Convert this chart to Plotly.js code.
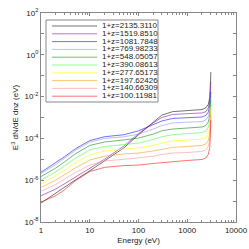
<!DOCTYPE html>
<html><head><meta charset="utf-8">
<script src="https://cdn.plot.ly/plotly-3.0.1.min.js"></script>
<style>html,body{margin:0;padding:0;background:#fff}#chart{width:249px;height:249px}</style>
</head><body><div id="chart"></div>
<script>
// Energy grid (eV)
const energy = [1, 2, 3, 5, 10, 20, 50, 100, 200, 300, 500, 1000, 2000, 2400, 2700, 2900, 3000, 3050];

// Series labels (1+z)
const seriesNames = ['1+z=2135.3110','1+z=1519.8510','1+z=1081.7848','1+z=769.98233','1+z=548.05057',
                     '1+z=390.08613','1+z=277.65173','1+z=197.62426','1+z=140.66309','1+z=100.11981'];

// E^3 dN/dE dnz (eV) values
const z2135 = [8.1e-8, 2.4e-7, 4.7e-7, 1.0e-6, 2.8e-6, 8.3e-6, 3.5e-5, 1.5e-4, 5.8e-4, 1.3e-3, 1.9e-3, 2.2e-3, 2.4e-3, 2.9e-3, 4.2e-3, 9.1e-3, 3.6e-2, 0.15];
const z1519 = [1.8e-7, 3.8e-7, 6.6e-7, 1.4e-6, 3.6e-6, 1.0e-5, 4.3e-5, 1.7e-4, 5.5e-4, 1.0e-3, 1.4e-3, 1.55e-3, 1.65e-3, 1.9e-3, 2.9e-3, 6.2e-3, 1.9e-2, 5.0e-2];
const z1081 = [2.4e-6, 6.7e-6, 1.3e-5, 3.1e-5, 7.9e-5, 1.2e-4, 1.5e-4, 2.3e-4, 4.4e-4, 6.8e-4, 9.0e-4, 9.7e-4, 1.06e-3, 1.25e-3, 1.8e-3, 4.0e-3, 8.6e-3, 1.7e-2];
const z769  = [2.1e-6, 5.6e-6, 1.1e-5, 2.6e-5, 6.7e-5, 9.9e-5, 1.2e-4, 1.6e-4, 2.8e-4, 4.1e-4, 5.5e-4, 6.1e-4, 6.4e-4, 7.6e-4, 1.1e-3, 2.4e-3, 5.5e-3, 1.07e-2];
const z548  = [1.5e-6, 3.8e-6, 7.4e-6, 1.8e-5, 4.6e-5, 6.7e-5, 8.4e-5, 1.04e-4, 1.6e-4, 2.3e-4, 2.8e-4, 3.1e-4, 3.5e-4, 4.1e-4, 6.1e-4, 1.3e-3, 3.5e-3, 6.9e-3];
const z390  = [1.0e-6, 2.5e-6, 4.8e-6, 1.1e-5, 2.8e-5, 4.1e-5, 5.1e-5, 6.0e-5, 8.9e-5, 1.2e-4, 1.5e-4, 1.7e-4, 1.9e-4, 2.3e-4, 3.3e-4, 7.2e-4, 2.3e-3, 4.9e-3];
const z277  = [6.6e-7, 1.6e-6, 2.9e-6, 6.7e-6, 1.6e-5, 2.5e-5, 3.1e-5, 3.5e-5, 4.6e-5, 6.0e-5, 7.5e-5, 8.4e-5, 9.4e-5, 1.1e-4, 1.6e-4, 3.5e-4, 1.3e-3, 3.2e-3];
const z197  = [4.5e-7, 1.0e-6, 1.8e-6, 3.8e-6, 9.3e-6, 1.4e-5, 1.8e-5, 2.0e-5, 2.5e-5, 2.9e-5, 3.7e-5, 4.1e-5, 4.6e-5, 5.4e-5, 7.9e-5, 1.7e-4, 7.6e-4, 2.0e-3];
const z140  = [3.0e-7, 6.2e-7, 1.1e-6, 2.3e-6, 5.3e-6, 8.3e-6, 1.0e-5, 1.15e-5, 1.4e-5, 1.7e-5, 2.0e-5, 2.1e-5, 2.4e-5, 2.8e-5, 4.1e-5, 8.9e-5, 4.4e-4, 1.3e-3];
const z100  = [9.1e-8, 1.8e-7, 3.4e-7, 9.2e-7, 2.6e-6, 4.1e-6, 5.0e-6, 5.3e-6, 6.3e-6, 7.0e-6, 7.9e-6, 8.8e-6, 9.8e-6, 1.15e-5, 1.7e-5, 3.7e-5, 2.5e-4, 7.6e-4];

const seriesValues = [z2135, z1519, z1081, z769, z548, z390, z277, z197, z140, z100];
const seriesColors = ['rgba(0,0,0,0.55)','rgba(140,0,160,0.55)','rgba(0,0,255,0.55)','rgba(110,110,255,0.45)','rgba(0,130,0,0.55)',
                      'rgba(40,255,40,0.5)','rgba(255,255,0,0.6)','rgba(255,150,0,0.55)','rgba(255,140,140,0.55)','rgba(255,0,0,0.55)'];

// Tick labels
const xTickVals = [1, 10, 100, 1000, 10000];
const xTickText = ['1', '10', '100', '1000', '10000'];
const yTickVals = [1e2, 1e0, 1e-2, 1e-4, 1e-6, 1e-8];
const yTickText = ['10<sup>2</sup>', '10<sup>0</sup>', '10<sup>-2</sup>', '10<sup>-4</sup>', '10<sup>-6</sup>', '10<sup>-8</sup>'];
const yMinorVals = [1e1, 1e-1, 1e-3, 1e-5, 1e-7];

const xMinor = [];
[1, 10, 100, 1000].forEach(d => { for (let k = 2; k <= 9; k++) xMinor.push(d * k); });

const traces = seriesValues.map((vals, i) => ({
  type: 'scatter', mode: 'lines', x: energy, y: vals, name: seriesNames[i],
  line: {color: seriesColors[i], width: 1}, showlegend: false, hoverinfo: 'skip'
}));

// Legend drawn as annotations + line shapes (compact, as in the reference)
const W = 249, H = 249, mL = 41, mR = 13, mT = 13, mB = 27;
const pw = W - mL - mR, ph = H - mT - mB;
const px2x = p => (p - mL) / pw;
const py2y = p => (H - mB - p) / ph;
const shapes = [{type: 'rect', xref: 'paper', yref: 'paper', x0: px2x(46), x1: px2x(158), y0: py2y(102), y1: py2y(20),
                 line: {color: '#888', width: 1}, fillcolor: '#fff', layer: 'above'}];
const annotations = [];
seriesNames.forEach((n, i) => {
  const py = 26 + 7.8 * i;
  shapes.push({type: 'line', xref: 'paper', yref: 'paper', x0: px2x(52), x1: px2x(97), y0: py2y(py), y1: py2y(py),
               line: {color: seriesColors[i], width: 1}, layer: 'above'});
  annotations.push({xref: 'paper', yref: 'paper', x: px2x(101), y: py2y(py), xanchor: 'left', yanchor: 'middle',
                    text: n, showarrow: false, font: {size: 8, color: '#222'}, borderpad: 0, height: 7.6, valign: 'middle'});
});

const axisCommon = {
  ticks: 'inside', tickcolor: '#888', tickwidth: 1, linecolor: '#888', linewidth: 1, mirror: 'ticks',
  showgrid: false, zeroline: false, automargin: false, tickfont: {size: 8, color: '#222'}
};

const layout = {
  width: W, height: H,
  margin: {l: mL, r: mR, t: mT, b: mB, pad: 0},
  paper_bgcolor: '#fff', plot_bgcolor: '#fff',
  font: {family: 'Liberation Sans, Arial, Helvetica, sans-serif', size: 8, color: '#222'},
  showlegend: false,
  xaxis: Object.assign({}, axisCommon, {
    type: 'log', range: [0, 4], tickmode: 'array', tickvals: xTickVals, ticktext: xTickText, ticklen: 3,
    minor: {tickmode: 'array', tickvals: xMinor, ticks: 'inside', ticklen: 2, tickcolor: '#888'},
    title: {text: 'Energy (eV)', font: {size: 8, color: '#222'}, standoff: 3}
  }),
  yaxis: Object.assign({}, axisCommon, {
    type: 'log', range: [-8, 2], tickmode: 'array', tickvals: yTickVals, ticktext: yTickText, ticklen: 3,
    minor: {tickmode: 'array', tickvals: yMinorVals, ticks: 'inside', ticklen: 3, tickcolor: '#888'},
    title: {text: 'E<sup>3</sup> dN/dE dnz (eV)', font: {size: 8, color: '#222'}, standoff: 4}
  }),
  shapes: shapes, annotations: annotations
};

Plotly.newPlot('chart', traces, layout, {staticPlot: true, displayModeBar: false});
</script>
</body></html>
